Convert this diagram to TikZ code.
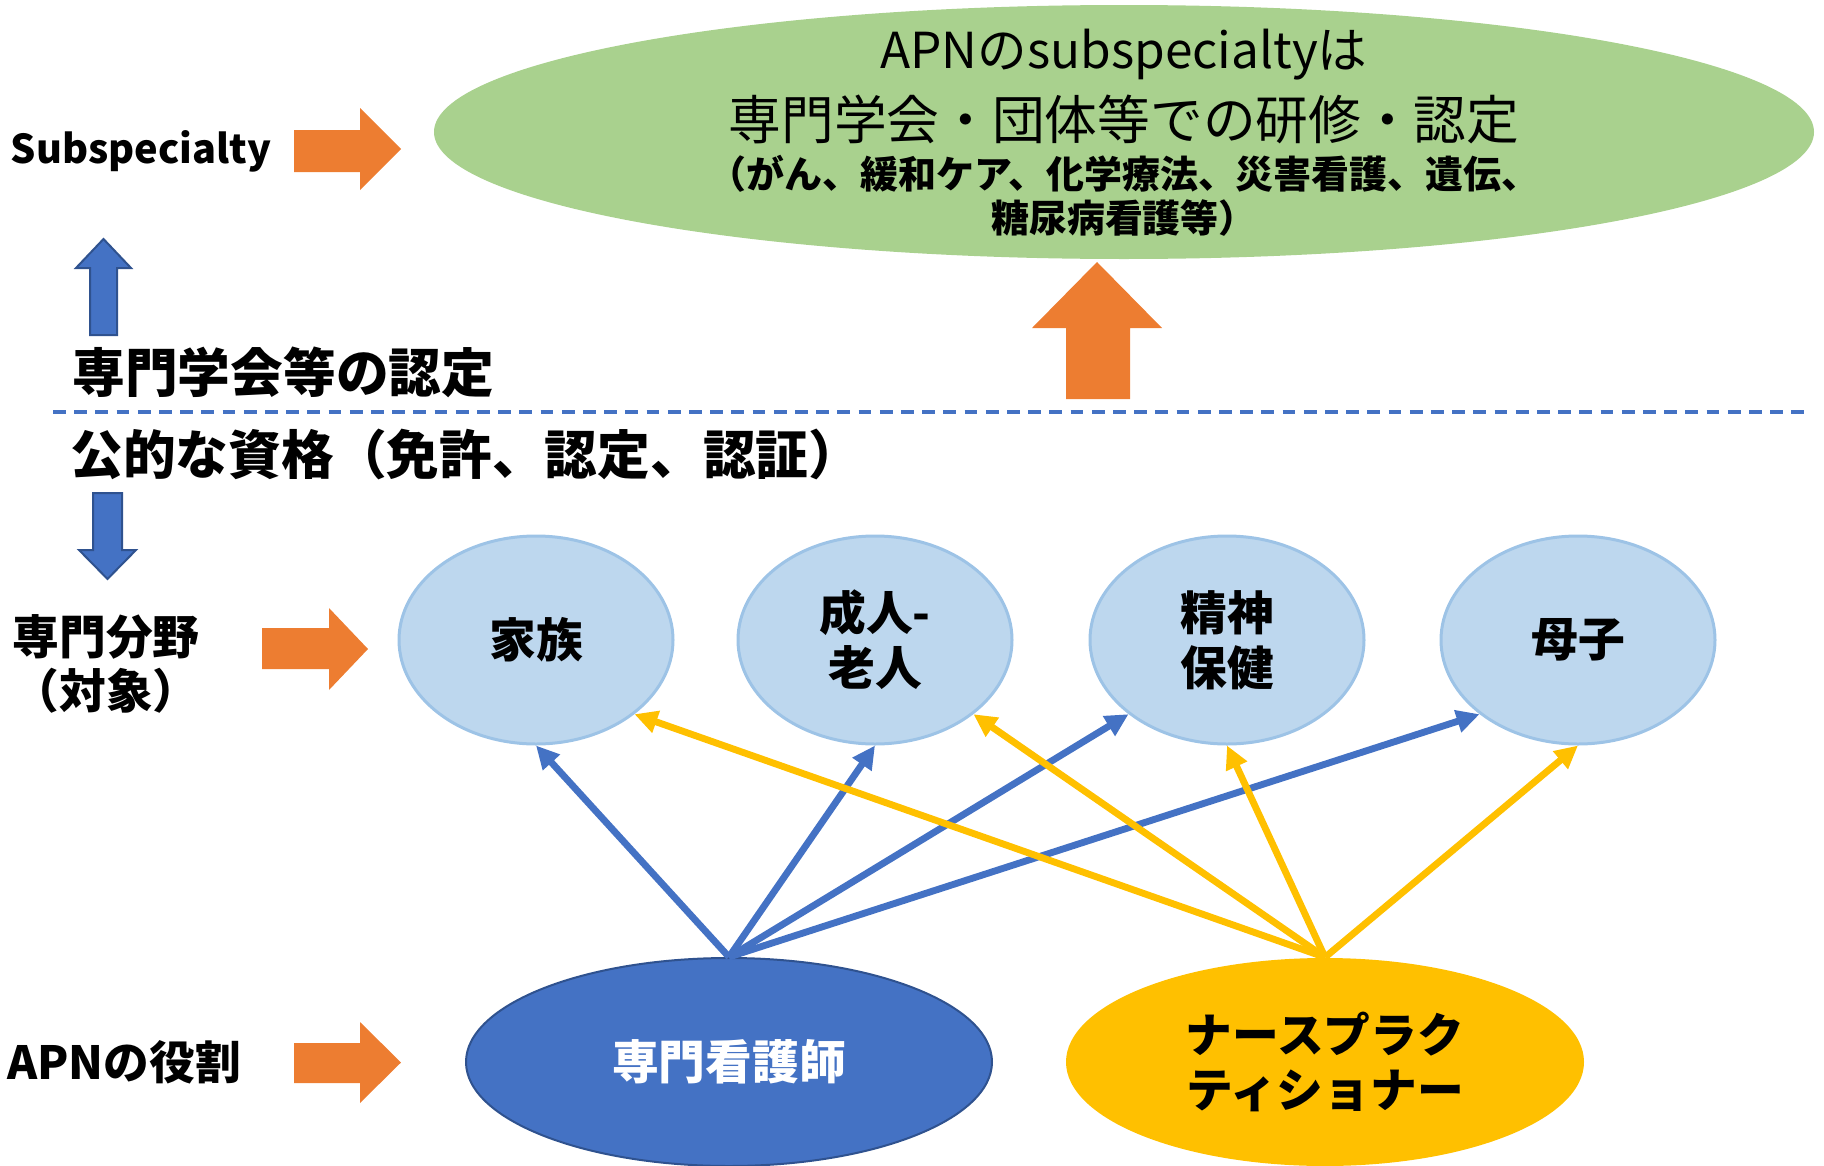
\documentclass[tikz,border=0pt]{standalone}
\usepackage{fontspec}
\setmainfont{Noto Sans CJK JP}
\usetikzlibrary{shapes.geometric,arrows.meta}
\definecolor{apnorange}{HTML}{ED7D31}
\definecolor{apnblue}{HTML}{4472C4}
\definecolor{apnyellow}{HTML}{FFC000}
\definecolor{apngreen}{HTML}{A9D18E}
\definecolor{fieldfill}{HTML}{BDD7EE}
\definecolor{fieldline}{HTML}{9DC3E6}
\definecolor{darkblue}{HTML}{2F528F}

\begin{document}
\begin{tikzpicture}[
    field/.style={ellipse, draw=fieldline, line width=0.03cm, fill=fieldfill, minimum width=2.74cm, minimum height=2.08cm, inner sep=0pt, align=center, font=\fontsize{13.3pt}{15.6pt}\selectfont\bfseries},
    role/.style={ellipse, minimum width=5.2cm, minimum height=2.08cm, inner sep=0pt, align=center, font=\fontsize{13.3pt}{15.8pt}\selectfont\bfseries},
    side/.style={font=\fontsize{13.3pt}{15.6pt}\selectfont\bfseries, align=center},
    bluelink/.style={draw=apnblue, line width=1.95pt, -{Triangle[length=0.23cm,width=0.22cm]}},
    yellowlink/.style={draw=apnyellow, line width=1.95pt, -{Triangle[length=0.23cm,width=0.22cm]}}
]
    \useasboundingbox (0,0) rectangle (18.24,-11.66);
    \node[ellipse, fill=apngreen, minimum width=13.8cm, minimum height=2.54cm] (sub) at (11.24,-1.32) {};
    \node[font=\fontsize{14.1pt}{18pt}\selectfont] at ([yshift=7.7mm]sub.center) {APNのsubspecialtyは};
    \node[font=\fontsize{15pt}{18pt}\selectfont] at ([yshift=1.3mm]sub.center) {専門学会・団体等での研修・認定};
    \node[font=\fontsize{10.8pt}{12pt}\selectfont\bfseries] at ([yshift=-4.2mm]sub.center) {（がん、緩和ケア、化学療法、災害看護、遺伝、};
    \node[font=\fontsize{10.8pt}{12pt}\selectfont\bfseries] at ([yshift=-8.6mm]sub.center) {糖尿病看護等）};

    \node[font=\fontsize{11.3pt}{14pt}\selectfont\bfseries] (lsub) at (1.41,-1.51) {Subspecialty};
    \node[anchor=west, font=\fontsize{15pt}{18pt}\selectfont\bfseries] (lsoc) at (0.60,-3.72) {専門学会等の認定};
    \node[anchor=west, font=\fontsize{15pt}{18pt}\selectfont\bfseries] (lpub) at (0.58,-4.54) {公的な資格（免許、認定、認証）};
    \node[side] (lfld) at (1.06,-6.64) {専門分野\\（対象）};
    \node[side, font=\fontsize{13pt}{15.6pt}\selectfont\bfseries] (lrol) at (1.24,-10.62) {APNの役割};

    \fill[apnorange] (2.94,-1.30) -- (3.60,-1.30) -- (3.60,-1.08) -- (4.01,-1.49) -- (3.60,-1.90) -- (3.60,-1.72) -- (2.94,-1.72) -- cycle;
    \fill[apnorange] (2.62,-6.28) -- (3.29,-6.28) -- (3.29,-6.08) -- (3.68,-6.49) -- (3.29,-6.90) -- (3.29,-6.69) -- (2.62,-6.69) -- cycle;
    \fill[apnorange] (2.94,-10.43) -- (3.60,-10.43) -- (3.60,-10.22) -- (4.01,-10.625) -- (3.60,-11.03) -- (3.60,-10.83) -- (2.94,-10.83) -- cycle;
    \fill[apnorange] (10.66,-3.99) -- (10.66,-3.28) -- (10.32,-3.28) -- (10.97,-2.62) -- (11.62,-3.28) -- (11.30,-3.28) -- (11.30,-3.99) -- cycle;
    \filldraw[fill=apnblue, draw=darkblue, line width=0.02cm] (0.90,-3.35) -- (0.90,-2.68) -- (0.76,-2.68) -- (1.035,-2.39) -- (1.31,-2.68) -- (1.17,-2.68) -- (1.17,-3.35) -- cycle;
    \filldraw[fill=apnblue, draw=darkblue, line width=0.02cm] (0.93,-4.93) -- (1.22,-4.93) -- (1.22,-5.50) -- (1.36,-5.50) -- (1.075,-5.79) -- (0.79,-5.50) -- (0.93,-5.50) -- cycle;

    \coordinate (dl) at (0.53,-4.12);
    \coordinate (dr) at (18.05,-4.12);
    \draw[apnblue, line width=0.034cm, dash pattern=on 0.127cm off 0.085cm] (dl) -- (dr);

    \node[field] (fam) at (5.36,-6.40) {家族};
    \node[field] (adu) at (8.75,-6.40) {成人-\\老人};
    \node[field] (men) at (12.27,-6.40) {精神\\保健};
    \node[field] (mch) at (15.78,-6.40) {母子};

    \node[role, fill=apnblue, draw=darkblue, line width=0.02cm, text=white, minimum width=5.26cm] (cns) at (7.29,-10.62) {専門看護師};
    \node[role, fill=apnyellow, minimum width=5.18cm] (np) at (13.25,-10.62) {ナースプラク\\ティショナー};

    \draw[bluelink] (cns.north) -- (fam.south);
    \draw[bluelink] (cns.north) -- (adu.south);
    \draw[bluelink] (cns.north) -- (men.217);
    \draw[bluelink] (cns.north) -- (mch.217);
    \draw[yellowlink] (np.north) -- (fam.-37);
    \draw[yellowlink] (np.north) -- (adu.-37);
    \draw[yellowlink] (np.north) -- (men.south);
    \draw[yellowlink] (np.north) -- (mch.south);
\end{tikzpicture}
\end{document}
